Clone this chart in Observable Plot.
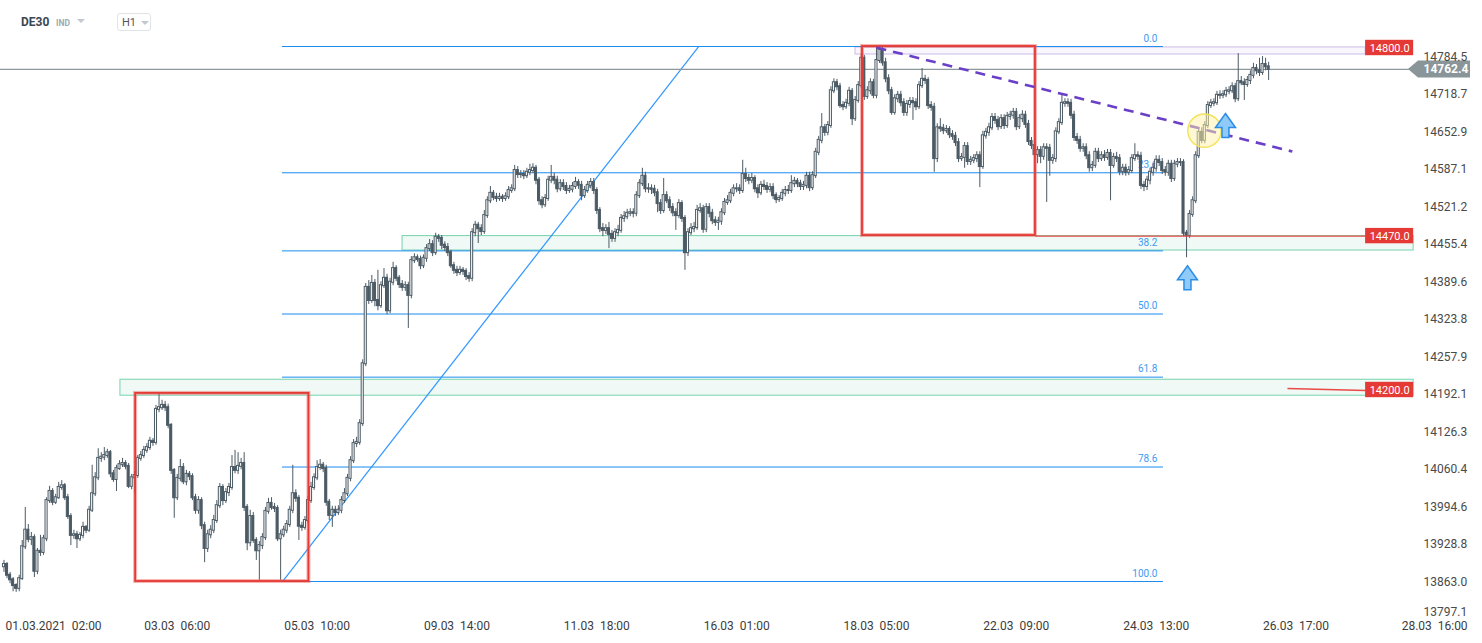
<!DOCTYPE html>
<html><head><meta charset="utf-8">
<script src="https://cdn.jsdelivr.net/npm/d3@7"></script>
<script src="https://cdn.jsdelivr.net/npm/@observablehq/plot@0.6"></script>
<style>
html,body{margin:0;padding:0;background:#fff;}
#wrap{position:relative;width:1482px;height:643px;overflow:hidden;font-family:Roboto,"Open Sans",sans-serif;}
#chart svg{display:block;}
.hd{position:absolute;white-space:nowrap;}
</style></head>
<body><div id="wrap"><div id="chart"></div>
<div class="hd" style="left:21px;top:15px;font-weight:bold;font-size:12px;color:#3b4651;">DE30</div>
<div class="hd" style="left:56px;top:18px;font-weight:bold;font-size:8.5px;color:#a0a9b1;">IND</div>
<div class="hd" style="left:77px;top:19px;width:0;height:0;border-left:4px solid transparent;border-right:4px solid transparent;border-top:4px solid #c3c9ce;"></div>
<div class="hd" style="left:117px;top:13px;width:34px;height:18px;border:1px solid #e0e4e7;border-radius:3px;box-sizing:border-box;"></div>
<div class="hd" style="left:122px;top:16px;font-size:11px;color:#555;">H1</div>
<div class="hd" style="left:141px;top:21px;width:0;height:0;border-left:4px solid transparent;border-right:4px solid transparent;border-top:4px solid #c3c9ce;"></div>
</div>
<script>
// ---- data (hourly DE30 candles, price units) ----
const firstOpen = 13890;
const closes = [
13894,13875,13867,13857,13852,13869,13925,13954,13938,13941,
13882,13917,13915,13939,14006,14022,14003,14011,14029,14032,
14011,13978,13945,13946,13939,13945,13959,13954,13989,14018,
14046,14080,14082,14085,14090,14053,14043,14062,14069,14071,
14066,14031,14046,14050,14080,14085,14094,14099,14110,14108,
14166,14169,14173,14169,14138,14059,14011,14045,14064,14039,
14052,14048,14011,13989,14006,13962,13922,13946,13954,13971,
13997,14029,14006,14020,14029,14064,14059,14066,14071,13994,
13932,13978,13936,13918,13927,13941,13987,14001,13994,13992,
13939,13946,13954,13964,13989,14018,14010,13961,13959,13971,
14006,14029,14046,14064,14068,14062,14003,13980,13989,13985,
13989,14006,14018,14045,14076,14106,14108,14141,14246,14380,
14357,14387,14357,14348,14383,14396,14339,14389,14413,14396,
14385,14380,14383,14366,14427,14432,14429,14418,14431,14448,
14455,14441,14468,14466,14454,14450,14441,14418,14410,14406,
14410,14408,14399,14396,14476,14489,14483,14478,14506,14532,
14545,14538,14536,14538,14536,14539,14550,14553,14585,14578,
14578,14576,14582,14585,14589,14568,14532,14525,14536,14568,
14573,14568,14553,14562,14557,14550,14552,14557,14564,14559,
14541,14550,14559,14564,14550,14515,14483,14480,14483,14473,
14466,14476,14480,14501,14504,14510,14511,14510,14541,14562,
14575,14553,14553,14552,14546,14527,14515,14541,14532,14520,
14511,14506,14527,14501,14441,14476,14483,14485,14515,14518,
14482,14520,14510,14497,14494,14496,14511,14529,14532,14545,
14553,14553,14550,14578,14571,14568,14571,14553,14546,14559,
14557,14552,14555,14541,14534,14536,14545,14550,14550,14562,
14566,14562,14557,14559,14575,14555,14576,14617,14638,14660,
14652,14664,14725,14739,14732,14699,14697,14703,14724,14676,
14708,14734,14782,14715,14725,14739,14717,14778,14796,14774,
14746,14725,14687,14711,14717,14704,14687,14701,14706,14704,
14697,14734,14745,14743,14699,14696,14606,14660,14659,14655,
14657,14648,14645,14634,14606,14608,14627,14601,14603,14606,
14611,14592,14646,14652,14660,14678,14673,14662,14676,14664,
14680,14682,14687,14662,14676,14682,14666,14636,14629,14613,
14620,14610,14625,14624,14603,14606,14653,14669,14703,14704,
14703,14682,14643,14638,14624,14625,14611,14590,14594,14617,
14606,14611,14608,14615,14594,14608,14606,14583,14589,14582,
14585,14606,14611,14610,14559,14557,14568,14582,14589,14603,
14599,14585,14582,14596,14571,14596,14599,14599,14475,14471,
14508,14532,14611,14652,14638,14664,14699,14703,14704,14717,
14717,14718,14724,14725,14732,14711,14741,14739,14736,14743,
14752,14764,14760,14757,14771,14767,14762.4];
const highs = [
13901,13897,13880,13871,13860,13875,13936,13994,13964,13950,
13946,13922,13945,13945,14011,14031,14027,14017,14038,14041,
14036,14017,13983,13954,13952,13950,13968,13962,13996,14068,
14055,14097,14090,14099,14096,14094,14059,14068,14076,14080,
14076,14071,14052,14057,14085,14092,14101,14106,14117,14115,
14173,14194,14182,14180,14175,14141,14062,14052,14078,14071,
14059,14057,14053,14017,14013,14011,13968,13954,13962,13980,
14006,14036,14034,14027,14036,14085,14094,14090,14080,14090,
13999,13989,13985,13941,13934,13948,13994,14010,14011,14001,
13997,13954,13961,13971,13996,14068,14025,14015,13968,13978,
14013,14038,14053,14076,14078,14073,14068,14008,13996,13996,
13997,14013,14027,14052,14083,14113,14117,14148,14253,14387,
14392,14401,14394,14410,14390,14413,14403,14396,14424,14418,
14401,14392,14390,14389,14434,14439,14437,14435,14437,14455,
14464,14462,14475,14473,14471,14460,14457,14445,14424,14417,
14417,14415,14413,14406,14483,14496,14494,14490,14515,14539,
14557,14550,14545,14545,14543,14546,14557,14560,14594,14592,
14585,14585,14589,14596,14597,14594,14573,14539,14543,14575,
14594,14580,14575,14569,14569,14564,14559,14564,14573,14569,
14566,14557,14566,14571,14571,14555,14520,14492,14490,14494,
14480,14483,14489,14508,14513,14517,14518,14518,14548,14569,
14589,14582,14562,14560,14559,14552,14534,14571,14548,14539,
14527,14518,14534,14532,14506,14483,14492,14494,14524,14527,
14524,14527,14527,14517,14504,14503,14518,14536,14541,14552,
14560,14562,14560,14603,14589,14578,14580,14576,14560,14566,
14568,14564,14562,14562,14546,14541,14552,14557,14559,14576,
14573,14571,14568,14566,14582,14582,14583,14624,14645,14685,
14666,14671,14732,14746,14745,14738,14706,14710,14731,14729,
14715,14741,14789,14787,14732,14746,14745,14803,14801,14801,
14782,14753,14731,14718,14724,14724,14711,14708,14713,14713,
14711,14741,14764,14752,14748,14706,14703,14667,14676,14666,
14664,14662,14655,14652,14641,14615,14634,14634,14610,14613,
14618,14618,14654,14659,14668,14685,14685,14680,14683,14683,
14687,14689,14694,14694,14683,14690,14689,14673,14643,14636,
14627,14627,14632,14632,14631,14613,14660,14676,14720,14711,
14711,14710,14689,14650,14645,14632,14632,14618,14601,14624,
14624,14618,14620,14622,14622,14615,14617,14613,14596,14596,
14592,14613,14632,14618,14617,14566,14575,14589,14597,14611,
14611,14606,14592,14603,14603,14603,14606,14606,14604,14480,
14515,14539,14618,14659,14660,14671,14706,14710,14711,14724,
14725,14725,14731,14732,14739,14738,14790,14750,14746,14750,
14760,14773,14771,14782,14785,14782,14775];
const lows = [
13880,13869,13860,13846,13845,13846,13866,13920,13932,13927,
13871,13876,13908,13910,13934,14001,13997,13999,14008,14024,
14006,13973,13927,13938,13922,13934,13939,13948,13950,13985,
14013,14041,14073,14076,14080,14046,14038,14022,14059,14064,
14060,14027,14025,14018,14045,14075,14080,14089,14094,14101,
14103,14160,14164,14162,14132,14052,13975,14006,14039,14034,
14032,14041,14006,13982,13982,13955,13897,13915,13939,13948,
13966,13992,13997,14001,14013,14024,14053,14052,14060,13987,
13918,13925,13931,13901,13866,13920,13936,13982,13989,13985,
13934,13866,13941,13948,13959,13983,14003,13936,13952,13954,
13966,14001,14024,14041,14059,14055,13996,13971,13959,13978,
13980,13983,14001,14013,14039,14071,14099,14103,14136,14241,
14350,14352,14346,14339,14343,14378,14332,14334,14383,14390,
14378,14373,14373,14308,14360,14422,14424,14411,14413,14424,
14443,14434,14436,14459,14446,14443,14434,14413,14403,14399,
14401,14401,14392,14389,14390,14469,14457,14471,14473,14501,
14527,14532,14529,14531,14529,14531,14534,14545,14548,14571,
14571,14569,14571,14576,14580,14560,14524,14518,14520,14531,
14562,14560,14546,14548,14550,14543,14545,14546,14552,14552,
14532,14536,14545,14553,14543,14508,14476,14469,14473,14448,
14459,14459,14469,14475,14494,14499,14504,14502,14504,14536,
14557,14546,14545,14543,14539,14511,14508,14510,14527,14513,
14504,14480,14501,14494,14410,14434,14471,14476,14480,14510,
14475,14476,14502,14490,14487,14480,14489,14506,14524,14527,
14539,14546,14543,14545,14564,14560,14562,14546,14536,14541,
14550,14545,14546,14534,14527,14529,14531,14539,14543,14545,
14555,14555,14550,14550,14553,14548,14550,14571,14611,14632,
14645,14646,14659,14720,14725,14694,14690,14692,14697,14664,
14671,14703,14729,14708,14710,14718,14711,14711,14773,14768,
14739,14718,14682,14682,14704,14697,14680,14680,14694,14673,
14690,14692,14729,14736,14692,14689,14582,14599,14652,14648,
14650,14641,14638,14627,14599,14601,14589,14594,14594,14597,
14599,14555,14587,14640,14645,14655,14666,14655,14657,14657,
14659,14673,14675,14655,14657,14669,14659,14629,14622,14606,
14597,14597,14603,14529,14575,14596,14599,14648,14664,14696,
14696,14675,14636,14631,14617,14617,14604,14582,14583,14589,
14599,14601,14601,14603,14532,14589,14599,14576,14576,14575,
14576,14580,14601,14603,14552,14548,14550,14560,14575,14582,
14592,14578,14575,14575,14564,14566,14590,14592,14469,14432,
14466,14503,14527,14606,14632,14632,14659,14694,14697,14699,
14710,14711,14713,14718,14720,14704,14706,14734,14708,14731,
14736,14746,14753,14750,14752,14760,14743];

// axis ticks
const yTicks = [14784.5,14718.7,14652.9,14587.1,14521.2,14455.4,14389.6,14323.8,14257.9,14192.1,14126.3,14060.4,13994.6,13928.8,13863.0];
const yTickBottom = 13797.1;
const xTickLabels = ["01.03.2021  02:00","03.03  06:00","05.03  10:00","09.03  14:00","11.03  18:00","16.03  01:00","18.03  05:00","22.03  09:00","24.03  13:00","26.03  17:00","28.03  16:00"];
const xTickIdx = [11,57,103,149,195,241,287,333,379,425,470.6];

// analysis drawings (bar index, price)
const fibLevels = [0.0,23.6,38.2,50.0,61.8,78.6,100.0];
const fibHigh = 14802.6, fibLow = 13864;
const fibStartIdx = 91.6, fibHighIdx = 228.5, fibEndIdx = 381.4;
const zones = [{from:131.1, lo:14444.7, hi:14470}, {from:38.3, lo:14190, hi:14218}];
const redBoxes = [{x1:43.3, x2:100.3, lo:13864, hi:14194}, {x1:282.4, x2:339.3, lo:14471, hi:14802.6}];
const lavender = [{x1:280.1, x2:447.9, lo:14788.6, hi:14801}];
const trend = [{x1:287.0, y1:14800.8, x2:423.8, y2:14618.4}];
const levelLabels = [14800.0, 14470.0, 14200.0];
const redLines = [{x1:339.3, y1:14470, x2:447.9, y2:14470}, {x1:422.2, y1:14202.6, x2:447.9, y2:14199.1}];
const lastPrice = 14762.4;
const circleMark = [{i:394.9, p:14655}];
const arrowMarks = [{i:389.3, p:14397}, {i:401.8, p:14664}];

// ---- build ----
const bars = closes.map((c, i) => ({i, open: i ? closes[i-1] : firstOpen, close: c, high: highs[i], low: lows[i]}));
const xDom = [-1.151, 464.31];
const fibRows = fibLevels.map(l => ({level: l, price: fibHigh - (fibHigh - fibLow) * l / 100, x1: fibStartIdx, x2: fibEndIdx}));
const candle = "#4b5a64";
const boxX1 = 447.9, boxX2 = 463.7, boxXc = 455.8;
const tagPts = [{x:462.0, lo:lastPrice, hi:lastPrice},{x:465.3, lo:lastPrice-15, hi:lastPrice+15},{x:482.4, lo:lastPrice-15, hi:lastPrice+15}];

const arrowSymbol = {
  draw(ctx, size) {
    const s = Math.sqrt(size / Math.PI);
    const k = s / 12;
    ctx.moveTo(0, -12*k);
    ctx.lineTo(10*k, 2*k);
    ctx.lineTo(3.5*k, 2*k);
    ctx.lineTo(3.5*k, 12*k);
    ctx.lineTo(-3.5*k, 12*k);
    ctx.lineTo(-3.5*k, 2*k);
    ctx.lineTo(-10*k, 2*k);
    ctx.closePath();
  }
};

const nb = s => s.replace(/ /g, "\u00a0");

const chart = Plot.plot({
  width: 1482, height: 643,
  marginLeft: 0, marginRight: 67, marginTop: 30.4, marginBottom: 25.5,
  x: {domain: xDom, axis: null},
  y: {domain: [13800, 14830], axis: null},
  style: {fontFamily: "Roboto, 'Open Sans', sans-serif", fontSize: "12px", background: "#fff", overflow: "visible"},
  marks: [
    // zones
    Plot.rect(zones, {x1: "from", x2: () => boxX2, y1: "lo", y2: "hi", fill: "#f0f9f5", stroke: "#74d3ad", strokeWidth: 1}),
    Plot.rect(lavender, {x1: "x1", x2: "x2", y1: "lo", y2: "hi", fill: "#f9f7fd", stroke: "#c9bbe6", strokeWidth: 1}),
    // fib
    Plot.ruleY(fibRows, {y: "price", x1: "x1", x2: "x2", stroke: "#1a8cf0", strokeWidth: 1}),
    Plot.text(fibRows, {x: "x2", y: "price", text: d => d.level.toFixed(1), textAnchor: "end", dx: -6, dy: -8, fill: "#3d9bf2", fontSize: 10}),
    Plot.link([{x1: fibStartIdx, y1: fibLow, x2: fibHighIdx, y2: fibHigh}], {x1: "x1", y1: "y1", x2: "x2", y2: "y2", stroke: "#2e96ff", strokeWidth: 1.2}),
    // last price line
    Plot.ruleY([lastPrice], {x1: xDom[0], x2: 462.3, stroke: "#8d979c", strokeWidth: 1.2}),
    // candles
    Plot.ruleX(bars, {x: "i", y1: "low", y2: "high", stroke: candle, strokeWidth: 1}),
    Plot.rect(bars, {x1: d => d.i - 0.34, x2: d => d.i + 0.34, y1: "open", y2: "close", insetTop: -0.5, insetBottom: -0.5,
      fill: d => d.close >= d.open ? "#ffffff" : candle, stroke: candle, strokeWidth: 1}),
    // red boxes
    Plot.rect(redBoxes, {x1: "x1", x2: "x2", y1: "lo", y2: "hi", fill: "none", stroke: "#ec5a55", strokeOpacity: 0.45, strokeWidth: 4}),
    Plot.rect(redBoxes, {x1: "x1", x2: "x2", y1: "lo", y2: "hi", fill: "none", stroke: "#e53935", strokeWidth: 1.8}),
    Plot.link(redLines, {x1: "x1", y1: "y1", x2: "x2", y2: "y2", stroke: "#ea4a45", strokeWidth: 1.4}),
    // trend line
    Plot.link(trend, {x1: "x1", y1: "y1", x2: "x2", y2: "y2", stroke: "#6a40c8", strokeWidth: 2.6, strokeDasharray: "10,7"}),
    // circle
    Plot.dot(circleMark, {x: "i", y: "p", r: 16.7, fill: "#fff1a6", fillOpacity: 0.5, stroke: "#f4e35c", strokeWidth: 1.5}),
    // arrows
    Plot.dot(arrowMarks, {x: "i", y: "p", r: 12, symbol: arrowSymbol, fill: "#8fcaf8", stroke: "#2a8de8", strokeWidth: 1.5}),
    // level boxes on right
    Plot.rect(levelLabels, {x1: () => boxX1, x2: () => boxX2, y1: d => d - 13.5, y2: d => d + 13.5, fill: "#e53935"}),
    Plot.text(levelLabels, {x: () => boxXc, y: d => d, text: d => d.toFixed(1), fill: "#ffffff", fontSize: 11}),
    // last price tag
    Plot.areaY(tagPts, {x: "x", y1: "lo", y2: "hi", fill: "#8a959a", curve: "linear"}),
    Plot.text([lastPrice], {frameAnchor: "right", y: d => d, dx: 8, text: d => d.toFixed(1), textAnchor: "start", fill: "#ffffff", fontWeight: "bold", fontSize: 12}),
    // y tick labels
    Plot.text(yTicks, {frameAnchor: "right", y: d => d, dx: 8, text: d => d.toFixed(1), textAnchor: "start", fill: "#4a4a4a", fontSize: 12}),
    Plot.text([yTickBottom], {frameAnchor: "bottom-right", lineAnchor: "middle", dx: 8, dy: -6, text: d => d.toFixed(1), textAnchor: "start", fill: "#4a4a4a", fontSize: 12}),
    // x tick labels
    Plot.text(xTickLabels.slice(0, 1), {frameAnchor: "bottom-left", lineAnchor: "middle", dx: 5, dy: 8, text: d => nb(d), textAnchor: "start", fill: "#3c3c3c", fontSize: 12}),
    Plot.text(xTickLabels.slice(1).map((t, k) => ({t, i: xTickIdx[k + 1]})), {x: "i", frameAnchor: "bottom", lineAnchor: "middle", dy: 8, text: d => nb(d.t), fill: "#3c3c3c", fontSize: 12})
  ]
});
document.getElementById("chart").appendChild(chart);
</script>
</body></html>
